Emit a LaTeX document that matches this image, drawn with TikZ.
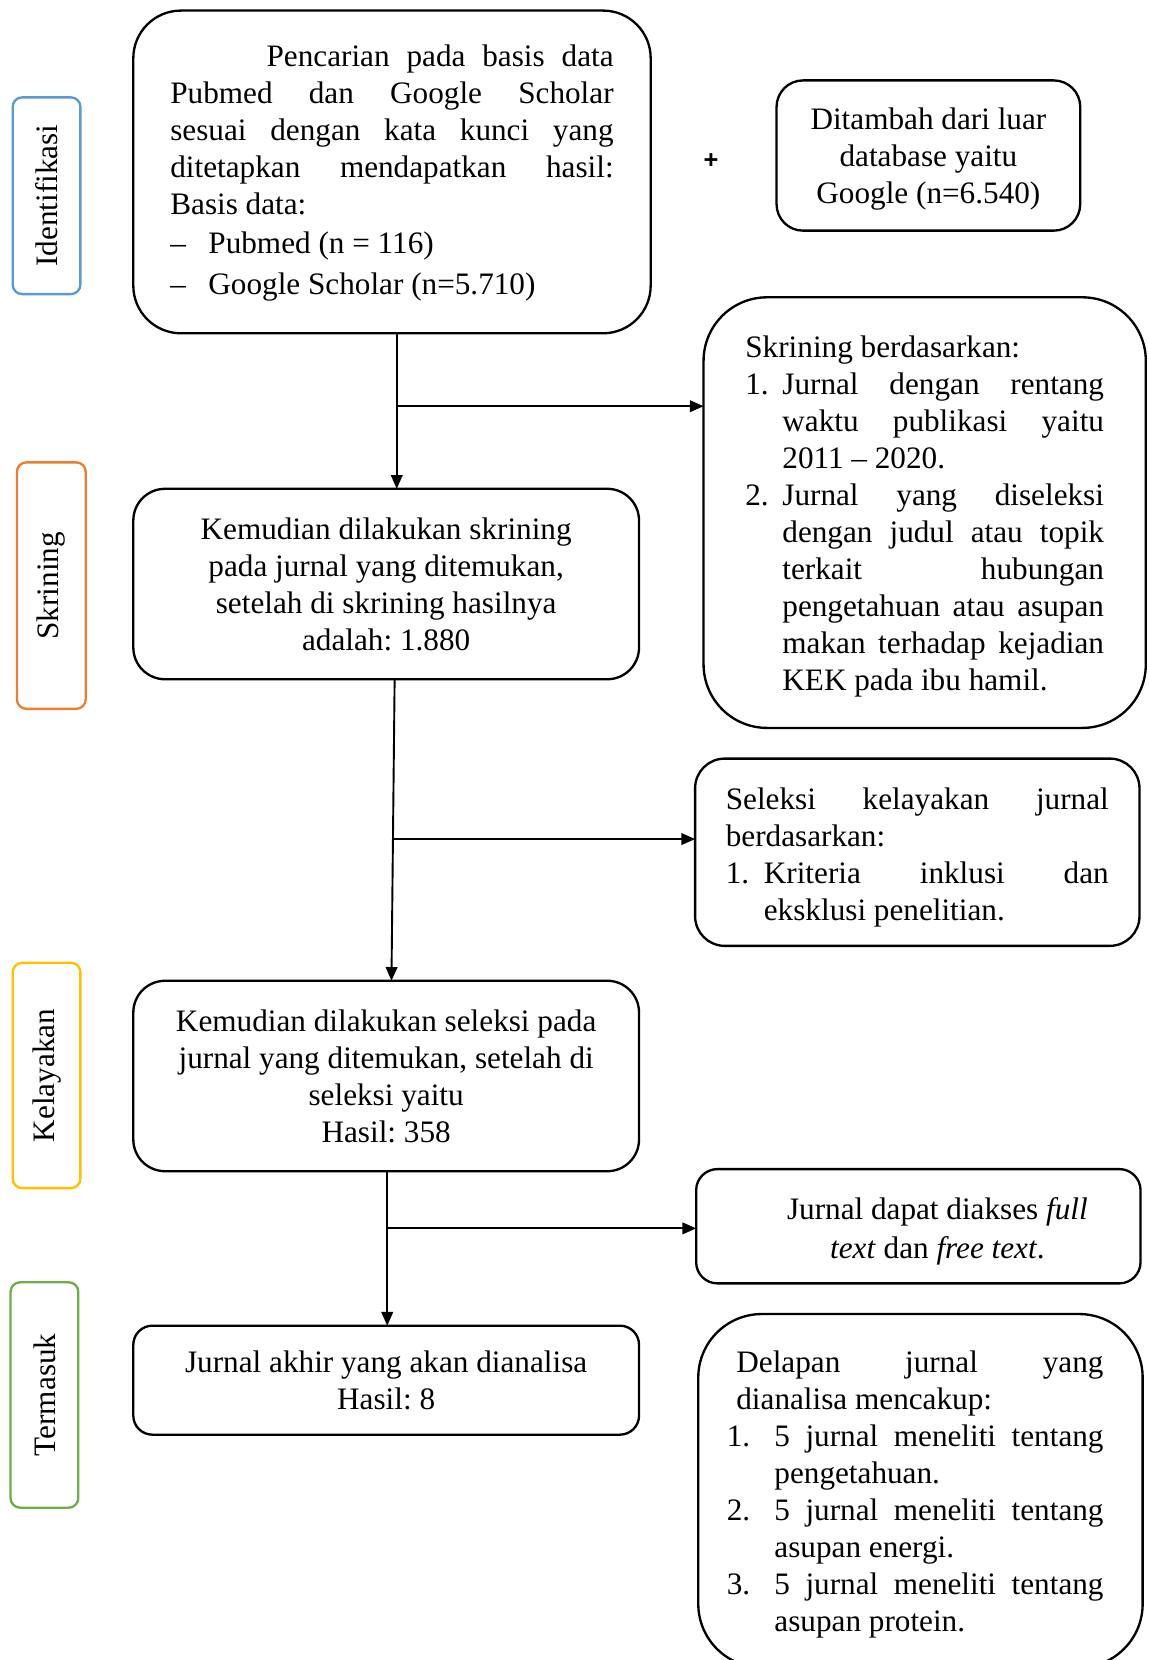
\documentclass[tikz,border=0pt]{standalone}
\usepackage{fontspec}
\setmainfont{Liberation Serif}
\newfontfamily\plusfont{Liberation Sans}
\usetikzlibrary{arrows.meta,calc}
\definecolor{labblue}{HTML}{5B9BD5}
\definecolor{laborange}{HTML}{ED7D31}
\definecolor{labgold}{HTML}{FFC000}
\definecolor{labgreen}{HTML}{70AD47}
\newcommand{\jline}[2]{\makebox[#1][s]{#2}}
\newcommand{\lowerby}[2]{\raisebox{-#1}[\height][\depth]{#2}}
\frenchspacing
\begin{document}
\frenchspacing
\begin{tikzpicture}[x=1pt,y=-1pt,
  every node/.style={inner sep=0pt, outer sep=0pt},
  mainfont/.style={font=\fontsize{29.5}{35}\selectfont\frenchspacing},
  flowbox/.style={draw, line width=2.2pt, rounded corners=#1, mainfont, align=center},
  labbox/.style={draw=#1, line width=2.2pt, rounded corners=9pt, rotate=90, mainfont},
  conn/.style={line width=1.8pt, -{Triangle[length=13pt,width=11pt]}}
]
\useasboundingbox (0,0) rectangle (1086,1569);

% stage labels
\node[labbox=labblue, minimum width=186pt, minimum height=64pt] (l1) at (44,185) {Identifikasi};
\node[labbox=laborange, minimum width=233pt, minimum height=65pt] (l2) at (48.5,553.5) {Skrining};
\node[labbox=labgold, minimum width=213pt, minimum height=64pt] (l3) at (44,1016.5) {Kelayakan};
\node[labbox=labgreen, minimum width=213pt, minimum height=64pt] (l4) at (42,1318.5) {Termasuk};

% box 1
\node[flowbox=45pt, minimum width=489pt, minimum height=305pt] (b1) at (370.5,162.5) {};
\node[mainfont, anchor=base west] (t1) at (161,63) {\parbox[t]{419pt}{%
\hspace*{91pt}\jline{328pt}{Pencarian pada basis data}\\
\jline{419pt}{Pubmed dan Google Scholar}\\
\jline{419pt}{sesuai dengan kata kunci yang}\\
\jline{419pt}{ditetapkan mendapatkan hasil:}\\
Basis data:\\[2pt]
\makebox[36pt][l]{–}Pubmed (n = 116)\\[3pt]
\makebox[36pt][l]{–}Google Scholar (n=5.710)}};

% plus sign
\node[font=\plusfont\bfseries\fontsize{24}{28}\selectfont] (plus) at (672,152) {+};

% box 2
\node[flowbox=25pt, minimum width=287pt, minimum height=142pt] (b2) at (877.5,147)
  {\lowerby{3pt}{\parbox{280pt}{\centering Ditambah dari luar\\database yaitu\\Google (n=6.540)}}};

% box 3
\node[flowbox=60pt, minimum width=418pt, minimum height=407pt] (b3) at (874,484.5) {\lowerby{4pt}{\parbox{339pt}{%
Skrining berdasarkan:\\
\makebox[35pt][l]{1.}\jline{304pt}{Jurnal dengan rentang}\\
\hspace*{35pt}\jline{304pt}{waktu publikasi yaitu}\\
\hspace*{35pt}2011 – 2020.\\
\makebox[35pt][l]{2.}\jline{304pt}{Jurnal yang diseleksi}\\
\hspace*{35pt}\jline{304pt}{dengan judul atau topik}\\
\hspace*{35pt}\jline{304pt}{terkait hubungan}\\
\hspace*{35pt}\jline{304pt}{pengetahuan atau asupan}\\
\hspace*{35pt}\jline{304pt}{makan terhadap kejadian}\\
\hspace*{35pt}KEK pada ibu hamil.}}};

% box 4
\node[flowbox=30pt, minimum width=478pt, minimum height=180pt] (b4) at (365,552)
  {Kemudian dilakukan skrining\\pada jurnal yang ditemukan,\\setelah di skrining hasilnya\\adalah: 1.880};

% box 5
\node[flowbox=28pt, minimum width=420pt, minimum height=177pt] (b5) at (867,805.5) {\lowerby{5pt}{\parbox{362pt}{%
\jline{362pt}{Seleksi kelayakan jurnal}\\
berdasarkan:\\
\makebox[36pt][l]{1.}\jline{326pt}{Kriteria inklusi dan}\\
\hspace*{36pt}eksklusi penelitian.}}};

% box 6
\node[flowbox=30pt, minimum width=478pt, minimum height=180pt] (b6) at (365,1017)
  {Kemudian dilakukan seleksi pada\\jurnal yang ditemukan, setelah di\\seleksi yaitu\\Hasil: 358};

% box 7
\node[draw, line width=2.2pt, rounded corners=20pt, mainfont, minimum width=420pt, minimum height=108pt] (b7) at (868,1159)
  {\hspace*{36pt}\lowerby{5pt}{\parbox[c]{340pt}{\centering Jurnal dapat diakses \textit{full}\\[2pt]\textit{text} dan \textit{free text}.}}};

% box 8
\node[flowbox=18pt, minimum width=478pt, minimum height=103pt] (b8) at (365,1304.5)
  {Jurnal akhir yang akan dianalisa\\Hasil: 8};

% box 9
\node[flowbox=60pt, minimum width=420pt, minimum height=334pt] (b9) at (870,1409) {};
\node[mainfont, anchor=base west] (t9) at (687,1297) {\parbox[t]{356pt}{%
\hspace*{9pt}\jline{347pt}{Delapan jurnal yang}\\
\hspace*{9pt}dianalisa mencakup:\\
\makebox[45pt][l]{1.}\jline{311pt}{5 jurnal meneliti tentang}\\
\hspace*{45pt}pengetahuan.\\
\makebox[45pt][l]{2.}\jline{311pt}{5 jurnal meneliti tentang}\\
\hspace*{45pt}asupan energi.\\
\makebox[45pt][l]{3.}\jline{311pt}{5 jurnal meneliti tentang}\\
\hspace*{45pt}asupan protein.}};

% connectors
\draw[conn] ([xshift=4.5pt]b1.south) -- coordinate[pos=0.469] (j1) ([xshift=10pt]b4.north);
\draw[conn] (j1) -- (b3.west |- j1);
\draw[conn] ([xshift=8pt]b4.south) -- coordinate[pos=0.53] (j2) ([xshift=5pt]b6.north);
\draw[conn] (j2) -- (b5.west |- j2);
\draw[conn] ([xshift=1pt]b6.south) -- coordinate[pos=0.37] (j3) ([xshift=1pt]b8.north);
\draw[conn] (j3) -- (b7.west |- j3);
\end{tikzpicture}
\end{document}
